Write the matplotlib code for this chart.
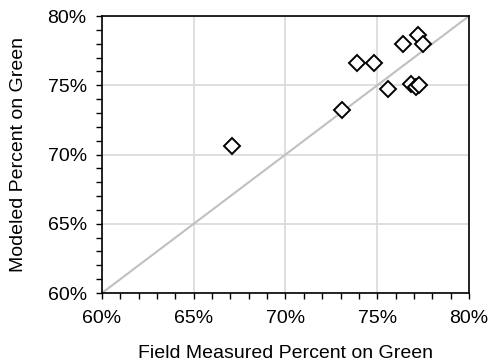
import matplotlib
matplotlib.use("Agg")
import matplotlib.pyplot as plt
from matplotlib.ticker import MultipleLocator, FuncFormatter

# valores medidos vs modelados (en %)
field = [67.1, 73.1, 73.9, 74.8, 75.6, 76.4, 77.2, 77.5, 76.85, 77.1, 77.3]
modeled = [70.6, 73.2, 76.6, 76.6, 74.7, 78.0, 78.65, 77.95, 75.1, 74.85, 75.05]
ticks = [60, 65, 70, 75, 80]

plt.rcParams["font.family"] = ["Liberation Sans", "DejaVu Sans"]

fig = plt.figure(figsize=(4.89, 3.62), dpi=100)
ax = fig.add_axes([0.2086, 0.1906, 0.7504, 0.765])

ax.plot([60, 80], [60, 80], color="#c0c0c0", lw=1.5, zorder=2)
ax.plot(field, modeled, linestyle="none", marker="D", ms=8.5,
        mfc="white", mec="black", mew=1.4, zorder=3)

ax.set_xlim(60, 80)
ax.set_ylim(60, 80)
ax.set_xticks(ticks)
ax.set_yticks(ticks)
ax.xaxis.set_minor_locator(MultipleLocator(1))
ax.yaxis.set_minor_locator(MultipleLocator(1))
fmt = FuncFormatter(lambda v, p: "%d%%" % v)
ax.xaxis.set_major_formatter(fmt)
ax.yaxis.set_major_formatter(fmt)

ax.grid(True, which="major", color="#d9d9d9", lw=1.2, zorder=0)
ax.set_axisbelow(True)

ax.tick_params(which="major", direction="out", length=4, width=1,
               labelsize=14)
ax.tick_params(which="minor", direction="out", length=4, width=1)
ax.tick_params(axis="x", pad=8)
ax.tick_params(axis="y", pad=7)
for s in ax.spines.values():
    s.set_color("black")
    s.set_linewidth(1.2)

ax.set_xlabel("Field Measured Percent on Green", fontsize=14, labelpad=13)
ax.set_ylabel("Modeled Percent on Green", fontsize=14, labelpad=15)

fig.savefig("out.png", dpi=100)
